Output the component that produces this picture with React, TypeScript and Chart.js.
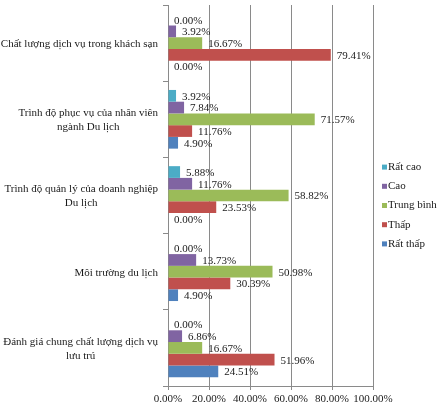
import React, { useRef, useEffect } from 'react';
import { Chart, ChartConfiguration, Plugin, registerables } from 'chart.js';

Chart.register(...registerables);

const categories: string[][] = [
  ['Chất lượng dịch vụ trong khách sạn'],
  ['Trình độ phục vụ của nhân viên', 'ngành Du lịch'],
  ['Trình độ quản lý của doanh nghiệp', 'Du lịch'],
  ['Môi trường du lịch'],
  ['Đánh giá chung chất lượng dịch vụ', 'lưu trú'],
];

const seriesNames = ['Rất cao', 'Cao', 'Trung bình', 'Thấp', 'Rất thấp'];
const seriesColors = ['#4BACC6', '#8064A2', '#9BBB59', '#C0504D', '#4F81BD'];

const ratCao = [0.0, 3.92, 5.88, 0.0, 0.0];
const cao = [3.92, 7.84, 11.76, 13.73, 6.86];
const trungBinh = [16.67, 71.57, 58.82, 50.98, 16.67];
const thap = [79.41, 11.76, 23.53, 30.39, 51.96];
const ratThap = [0.0, 4.9, 0.0, 4.9, 24.51];

const seriesValues = [ratCao, cao, trungBinh, thap, ratThap];

const xTicks = [0, 20, 40, 60, 80, 100];

const FONT = '"Liberation Serif", "Times New Roman", serif';
const TEXT = '#1a1a1a';
const GRID = '#8a8a8a';

// nhãn trục y: khối căn phải, từng dòng căn giữa
const yLabelPlugin: Plugin<'bar'> = {
  id: 'yLabels',
  afterDraw(chart) {
    const { ctx } = chart;
    const y = chart.scales.y;
    ctx.save();
    ctx.font = `11px ${FONT}`;
    ctx.fillStyle = TEXT;
    ctx.textAlign = 'center';
    ctx.textBaseline = 'middle';
    const right = chart.chartArea.left - 10;
    const lh = 14;
    categories.forEach((lines, i) => {
      const cy = y.getPixelForValue(i);
      const w = Math.max(...lines.map((l) => ctx.measureText(l).width));
      const cx = right - w / 2;
      const y0 = cy - ((lines.length - 1) * lh) / 2 + 1;
      lines.forEach((l, k) => ctx.fillText(l, cx, y0 + k * lh));
    });
    ctx.restore();
  },
};

// nhãn giá trị ở cuối thanh
const valueLabelPlugin: Plugin<'bar'> = {
  id: 'valueLabels',
  afterDatasetsDraw(chart) {
    const { ctx } = chart;
    ctx.save();
    ctx.font = `11px ${FONT}`;
    ctx.fillStyle = TEXT;
    ctx.textAlign = 'left';
    ctx.textBaseline = 'middle';
    chart.data.datasets.forEach((ds, di) => {
      const meta = chart.getDatasetMeta(di);
      meta.data.forEach((bar: any, i) => {
        const v = ds.data[i] as number;
        ctx.fillText(`${v.toFixed(2)}%`, bar.x + 6, bar.y + 1);
      });
    });
    ctx.restore();
  },
};

const legendPlugin: Plugin<'bar'> = {
  id: 'sideLegend',
  afterDraw(chart) {
    const { ctx } = chart;
    ctx.save();
    ctx.font = `11px ${FONT}`;
    ctx.textAlign = 'left';
    ctx.textBaseline = 'middle';
    const x = chart.chartArea.right + 9;
    const step = 19.2;
    const top = (chart.chartArea.top + chart.chartArea.bottom) / 2 - step * 2 + 10;
    seriesNames.forEach((name, i) => {
      const cy = top + i * step;
      ctx.fillStyle = seriesColors[i];
      ctx.fillRect(x, cy - 2.5, 5, 5);
      ctx.fillStyle = TEXT;
      ctx.fillText(name, x + 6, cy);
    });
    ctx.restore();
  },
};

export default function App() {
  const canvasRef = useRef<HTMLCanvasElement>(null);
  const chartRef = useRef<Chart | null>(null);

  useEffect(() => {
    if (!canvasRef.current) return;
    if (chartRef.current) chartRef.current.destroy();
    const ctx = canvasRef.current.getContext('2d');
    if (!ctx) return;

    const config: ChartConfiguration<'bar'> = {
      type: 'bar',
      data: {
        labels: categories.map((c) => c.join(' ')),
        datasets: seriesNames.map((name, i) => ({
          label: name,
          data: seriesValues[i],
          backgroundColor: seriesColors[i],
          borderWidth: 0,
          barPercentage: 1,
          categoryPercentage: 0.77,
        })),
      },
      options: {
        indexAxis: 'y',
        animation: false,
        responsive: true,
        maintainAspectRatio: false,
        layout: { padding: { top: 5, right: 68, left: 0, bottom: 0 } },
        plugins: {
          legend: { display: false },
          tooltip: { enabled: false },
        },
        scales: {
          x: {
            min: 0,
            max: 100,
            afterBuildTicks: (s) => {
              s.ticks = xTicks.map((v) => ({ value: v }));
            },
            afterFit: (s) => {
              s.height = 22;
            },
            grid: { color: GRID, lineWidth: 1, tickLength: 4 },
            border: { color: GRID },
            ticks: {
              color: TEXT,
              font: { family: FONT, size: 11 },
              padding: 3,
              maxRotation: 0,
              autoSkip: false,
              callback: (v) => `${Number(v).toFixed(2)}%`,
            },
          },
          y: {
            afterFit: (s) => {
              s.width = 168;
            },
            grid: { drawOnChartArea: false, color: GRID, tickLength: 5 },
            border: { color: GRID },
            ticks: { display: false },
          },
        },
      },
      plugins: [valueLabelPlugin, yLabelPlugin, legendPlugin],
    };

    chartRef.current = new Chart(ctx, config);
    return () => {
      chartRef.current?.destroy();
      chartRef.current = null;
    };
  }, []);

  return (
    <div style={{ position: 'fixed', left: 0, top: 0, width: 441, height: 408, background: '#fff' }}>
      <canvas ref={canvasRef} />
    </div>
  );
}
